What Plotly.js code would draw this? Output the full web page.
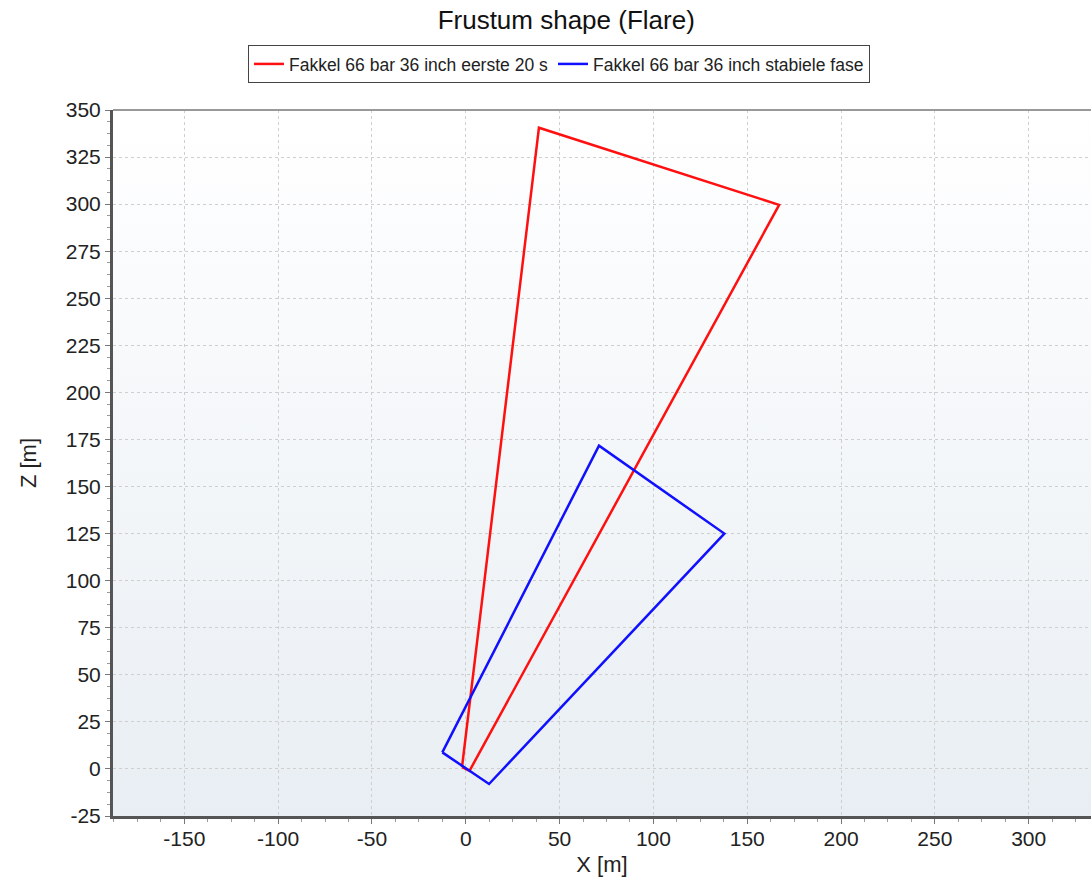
<!DOCTYPE html>
<html>
<head>
<meta charset="utf-8">
<script src="https://cdn.plot.ly/plotly-3.0.1.min.js"></script>
<style>
html,body{margin:0;padding:0;background:#ffffff;}
#chart{width:1091px;height:880px;}
</style>
</head>
<body>
<div id="chart"></div>
<script>
// Series: frustum outlines (X [m], Z [m]), closed polygons
const redName = "Fakkel 66 bar 36 inch eerste 20 s";
const redX = [-2, 39, 167, 2, -2];
const redZ = [1, 340.6, 299.6, -1, 1];

const blueName = "Fakkel 66 bar 36 inch stabiele fase";
const blueX = [-12.5, 71, 137.8, 12.4, -12.5];
const blueZ = [8.8, 171.7, 125, -8, 8.8];

const xTicks = [-150, -100, -50, 0, 50, 100, 150, 200, 250, 300];
const yTicks = [-25, 0, 25, 50, 75, 100, 125, 150, 175, 200, 225, 250, 275, 300, 325, 350];

const gradSvg = '<svg xmlns="http://www.w3.org/2000/svg" width="10" height="100" preserveAspectRatio="none">' +
  '<defs><linearGradient id="g" x1="0" y1="0" x2="0" y2="1">' +
  '<stop offset="0" stop-color="#ffffff"/><stop offset="1" stop-color="#e8eef3"/></linearGradient></defs>' +
  '<rect width="10" height="100" fill="url(#g)"/></svg>';
const gradUri = 'data:image/svg+xml;base64,' + btoa(gradSvg);

const font = "Liberation Sans, Arial, sans-serif";

const traces = [
  {x: redX, y: redZ, name: redName, type: 'scatter', mode: 'lines',
   line: {color: '#ff1010', width: 2.5}},
  {x: blueX, y: blueZ, name: blueName, type: 'scatter', mode: 'lines',
   line: {color: '#1010ff', width: 2.5}}
];

const layout = {
  width: 1091, height: 880,
  margin: {l: 113, r: 0, t: 110, b: 64},
  paper_bgcolor: '#ffffff',
  plot_bgcolor: 'rgba(0,0,0,0)',
  font: {family: font, color: '#222', size: 21},
  title: {text: 'Frustum shape (Flare)', font: {family: font, size: 26, color: '#111'},
          x: 0.519, xref: 'container', xanchor: 'center', y: 0.977, yref: 'container', yanchor: 'middle'},
  showlegend: true,
  legend: {orientation: 'h', x: 0.456, xanchor: 'center', y: 1.092, yanchor: 'top',
           bordercolor: '#444', borderwidth: 1, bgcolor: '#ffffff',
           font: {family: font, size: 17.5, color: '#222'}, itemwidth: 30,
           traceorder: 'normal'},
  xaxis: {
    range: [-188, 333.2], tickvals: xTicks, ticktext: xTicks.map(String),
    showgrid: true, gridcolor: '#cfcfcf', griddash: 'dot', gridwidth: 1,
    zeroline: false, showline: true, linecolor: '#555', linewidth: 3,
    ticks: 'outside', ticklen: 5, tickcolor: '#777', tickwidth: 1,
    ticklabelstandoff: -3,
    minor: {dtick: 12.5, tick0: 0, ticks: 'outside', ticklen: 3, tickcolor: '#999', showgrid: false},
    tickfont: {size: 21, family: font, color: '#222'},
    title: {text: 'X [m]', font: {size: 22, family: font, color: '#222'}, standoff: 8},
    fixedrange: true
  },
  yaxis: {
    range: [-25, 350], tickvals: yTicks, ticktext: yTicks.map(String),
    showgrid: true, gridcolor: '#cfcfcf', griddash: 'dot', gridwidth: 1,
    zeroline: false, showline: true, linecolor: '#555', linewidth: 3,
    ticks: 'outside', ticklen: 5, tickcolor: '#777', tickwidth: 1,
    minor: {dtick: 6.25, tick0: 0, ticks: 'outside', ticklen: 3, tickcolor: '#999', showgrid: false},
    tickfont: {size: 21, family: font, color: '#222'},
    title: {text: 'Z [m]', font: {size: 22, family: font, color: '#222'}, standoff: 24},
    fixedrange: true
  },
  images: [{source: gradUri, xref: 'paper', yref: 'paper', x: 0, y: 1, sizex: 1, sizey: 1,
            xanchor: 'left', yanchor: 'top', sizing: 'stretch', layer: 'below'}],
  shapes: [{type: 'line', xref: 'paper', yref: 'paper', x0: 0, x1: 1, y0: 1, y1: 1,
            line: {color: '#999', width: 2}}]
};

Plotly.newPlot('chart', traces, layout, {displayModeBar: false, staticPlot: true});
</script>
</body>
</html>
